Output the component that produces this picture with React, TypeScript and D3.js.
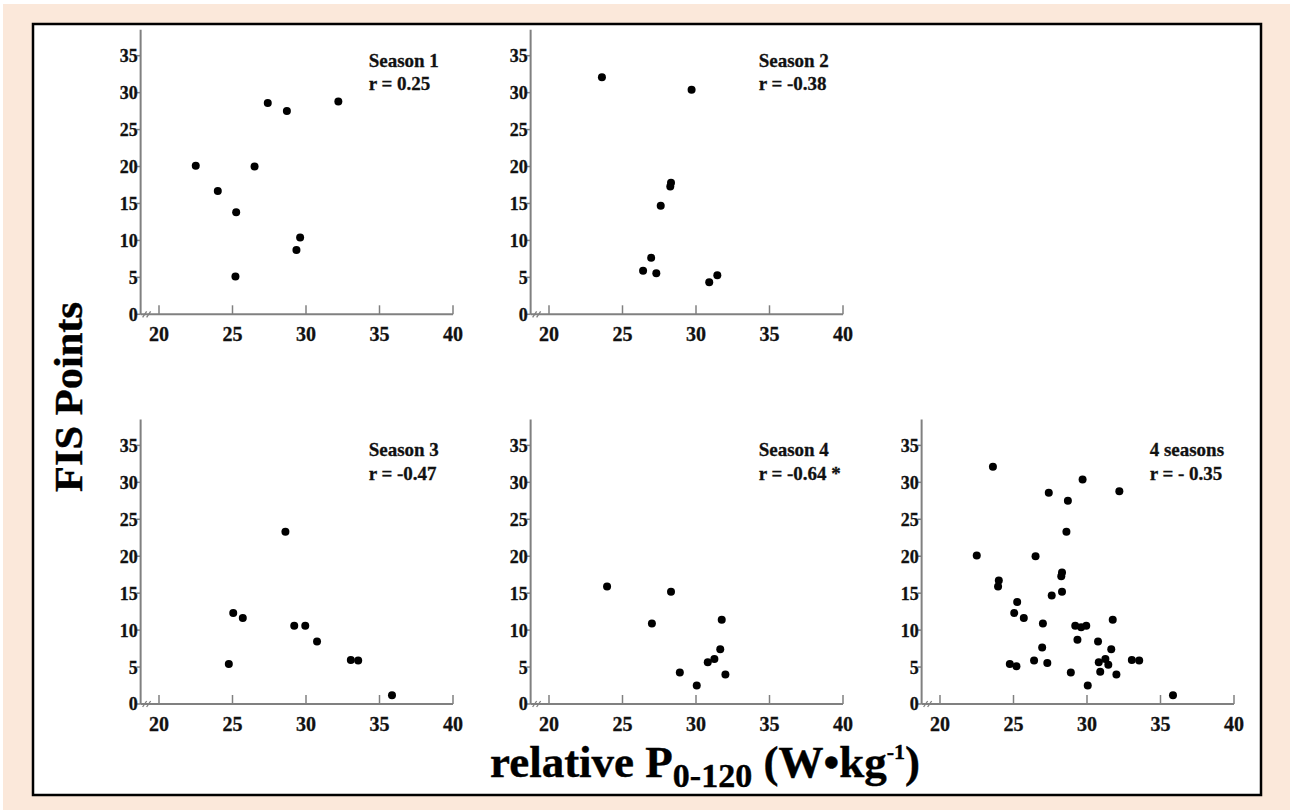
import React from "react";
import * as d3 from "d3";

type Pt = [number, number];

const season1: Pt[] = [
  [22.5, 20.1], [24.0, 16.7], [25.25, 13.8], [25.2, 5.1], [26.5, 20.0],
  [27.4, 28.6], [28.7, 27.5], [29.6, 10.4], [29.35, 8.7], [32.2, 28.8],
];
const season2: Pt[] = [
  [23.6, 32.1], [29.7, 30.4], [28.3, 17.8], [28.25, 17.3], [27.6, 14.7],
  [26.95, 7.65], [26.4, 5.9], [27.3, 5.55], [30.9, 4.35], [31.45, 5.3],
];
const season3: Pt[] = [
  [28.6, 23.3], [25.05, 12.3], [25.7, 11.65], [24.75, 5.4], [29.2, 10.6],
  [29.95, 10.6], [30.75, 8.45], [33.05, 5.95], [33.55, 5.9], [35.85, 1.2],
];
const season4: Pt[] = [
  [23.95, 15.9], [28.3, 15.2], [27.0, 10.9], [31.75, 11.4], [31.65, 7.4],
  [31.25, 6.1], [30.8, 5.65], [28.9, 4.25], [32.0, 4.0], [30.05, 2.5],
];
const allSeasons: Pt[] = [...season1, ...season2, ...season3, ...season4];

const panelTitles = ["Season 1", "Season 2", "Season 3", "Season 4", "4 seasons"];
const panelR = ["r = 0.25", "r = -0.38", "r = -0.47", "r = -0.64 *", "r = - 0.35"];
const panelData = [season1, season2, season3, season4, allSeasons];
const panelCol = [0, 1, 0, 1, 2];
const panelRow = [0, 0, 1, 1, 1];

const xTicks = [20, 25, 30, 35, 40];
const yTicks = [0, 5, 10, 15, 20, 25, 30, 35];

const colX20 = [159, 549, 940];
const rowY0 = [314.3, 704];
const FONT = "'Liberation Serif', 'Times New Roman', serif";
const AXIS = "#808080";

function Panel({ i }: { i: number }) {
  const x20 = colX20[panelCol[i]];
  const y0 = rowY0[panelRow[i]];
  const x = d3.scaleLinear().domain([20, 40]).range([x20, x20 + 294]);
  const y = d3.scaleLinear().domain([0, 35]).range([y0, y0 - 258.6]);
  const ax = x(18.75);
  const xEnd = x(40);
  return (
    <g>
      <line x1={ax} x2={ax} y1={y(0)} y2={y(38.5)} stroke={AXIS} strokeWidth={2} />
      {yTicks.map((t) => (
        <g key={"y" + t}>
          <line x1={ax - 4} x2={ax} y1={y(t)} y2={y(t)} stroke={AXIS} strokeWidth={1.5} />
          <text
            x={ax - 3}
            y={y(t)}
            dy="0.36em"
            textAnchor="end"
            fontFamily={FONT}
            fontWeight="bold"
            fontSize={18}
            stroke="#111"
            strokeWidth={0.3}
            fill="#111"
          >
            {t}
          </text>
        </g>
      ))}
      <line x1={ax} x2={xEnd} y1={y(0)} y2={y(0)} stroke={AXIS} strokeWidth={2} />
      <line x1={ax + 2} x2={ax + 6} y1={y(0) + 3} y2={y(0) - 3} stroke={AXIS} strokeWidth={1.3} />
      <line x1={ax + 6} x2={ax + 10} y1={y(0) + 3} y2={y(0) - 3} stroke={AXIS} strokeWidth={1.3} />
      {xTicks.map((t) => (
        <g key={"x" + t}>
          <line x1={x(t)} x2={x(t)} y1={y(0)} y2={y(0) - 9} stroke={AXIS} strokeWidth={1.5} />
          <text
            x={x(t)}
            y={y(0) + 27}
            textAnchor="middle"
            fontFamily={FONT}
            fontWeight="bold"
            fontSize={20}
            stroke="#111"
            strokeWidth={0.3}
            fill="#111"
          >
            {t}
          </text>
        </g>
      ))}
      {panelData[i].map((d, k) => (
        <circle key={k} cx={x(d[0])} cy={y(d[1])} r={4} fill="#000" />
      ))}
      <text x={ax + 228} y={y(35) + 11} fontFamily={FONT} fontWeight="bold" fontSize={19} stroke="#111" strokeWidth={0.3} fill="#111">
        {panelTitles[i]}
      </text>
      <text x={ax + 228} y={y(35) + 34.5} fontFamily={FONT} fontWeight="bold" fontSize={19} stroke="#111" strokeWidth={0.3} fill="#111">
        {panelR[i]}
      </text>
    </g>
  );
}

export default function App() {
  return (
    <svg
      width={1290}
      height={810}
      style={{ position: "absolute", left: 0, top: 0, display: "block" }}
    >
      <rect x={0} y={0} width={1290} height={810} fill="#fff" />
      <rect x={3} y={4} width={1287} height={806} fill="#fbe8da" />
      <rect x={33} y={24} width={1228} height={771} fill="#fff" stroke="#000" strokeWidth={2.5} />
      {panelTitles.map((_, i) => (
        <Panel key={i} i={i} />
      ))}
      <text
        transform="translate(81.5,397) rotate(-90)"
        textAnchor="middle"
        fontFamily={FONT}
        fontWeight="bold"
        fontSize={40}
        textLength={190}
        lengthAdjust="spacingAndGlyphs"
        stroke="#000"
        strokeWidth={0.4}
        fill="#000"
      >
        FIS Points
      </text>
      <text x={490} y={777} fontFamily={FONT} fontWeight="bold" fontSize={45} stroke="#000" strokeWidth={0.4} fill="#000">
        relative P
        <tspan fontSize={34} dy={10}>0-120</tspan>
        <tspan dy={-10}> (W•kg</tspan>
        <tspan fontSize={22} dy={-18}>-1</tspan>
        <tspan dy={18}>)</tspan>
      </text>
    </svg>
  );
}
